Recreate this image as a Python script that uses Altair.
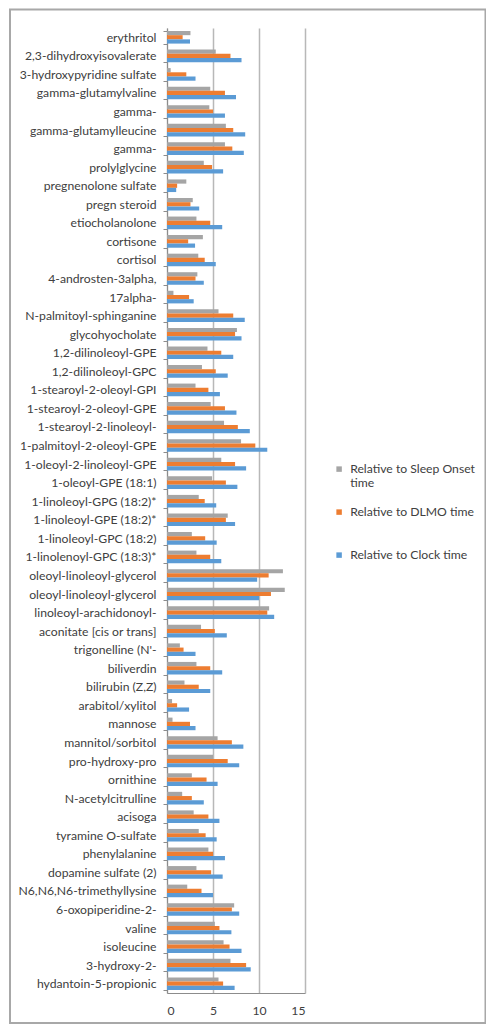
import altair as alt
import pandas as pd

names = [
    "erythritol", "2,3-dihydroxyisovalerate", "3-hydroxypyridine sulfate",
    "gamma-glutamylvaline", "gamma-", "gamma-glutamylleucine", "gamma-\u200b",
    "prolylglycine", "pregnenolone sulfate", "pregn steroid", "etiocholanolone",
    "cortisone", "cortisol", "4-androsten-3alpha,", "17alpha-",
    "N-palmitoyl-sphinganine", "glycohyocholate", "1,2-dilinoleoyl-GPE",
    "1,2-dilinoleoyl-GPC", "1-stearoyl-2-oleoyl-GPI", "1-stearoyl-2-oleoyl-GPE",
    "1-stearoyl-2-linoleoyl-", "1-palmitoyl-2-oleoyl-GPE", "1-oleoyl-2-linoleoyl-GPE",
    "1-oleoyl-GPE (18:1)", "1-linoleoyl-GPG (18:2)*", "1-linoleoyl-GPE (18:2)*",
    "1-linoleoyl-GPC (18:2)", "1-linolenoyl-GPC (18:3)*", "oleoyl-linoleoyl-glycerol",
    "oleoyl-linoleoyl-glycerol\u200b", "linoleoyl-arachidonoyl-", "aconitate [cis or trans]",
    "trigonelline (N'-", "biliverdin", "bilirubin (Z,Z)", "arabitol/xylitol",
    "mannose", "mannitol/sorbitol", "pro-hydroxy-pro", "ornithine",
    "N-acetylcitrulline", "acisoga", "tyramine O-sulfate", "phenylalanine",
    "dopamine sulfate (2)", "N6,N6,N6-trimethyllysine", "6-oxopiperidine-2-",
    "valine", "isoleucine", "3-hydroxy-2-", "hydantoin-5-propionic",
]

sleep_onset = [
    2.55, 5.3, 0.4, 4.7, 4.6, 6.4, 6.3, 4.0, 2.1, 2.8, 3.2, 3.9, 3.4, 3.3, 0.7,
    5.6, 7.6, 4.4, 3.8, 3.1, 4.75, 6.2, 8.05, 5.9, 4.9, 3.45, 6.6, 2.7, 3.2,
    12.6, 12.8, 11.1, 3.7, 1.4, 3.2, 1.9, 0.55, 0.6, 5.5, 5.0, 2.7, 1.65, 2.9,
    3.45, 4.5, 3.2, 2.2, 7.3, 5.2, 6.15, 6.9, 5.6,
]
dlmo = [
    1.7, 6.9, 2.1, 6.3, 5.0, 7.2, 7.1, 4.9, 1.1, 2.55, 4.7, 2.3, 4.1, 3.1, 2.4,
    7.2, 7.4, 5.9, 5.3, 4.5, 6.3, 7.7, 9.6, 7.4, 6.4, 4.1, 6.4, 4.15, 4.7,
    11.05, 11.3, 10.9, 5.2, 1.8, 4.7, 3.45, 1.1, 2.5, 7.05, 6.6, 4.3, 2.7, 4.5,
    4.2, 5.0, 4.8, 3.75, 7.05, 5.7, 6.8, 8.6, 6.1,
]
clock = [
    2.5, 8.1, 3.1, 7.5, 6.3, 8.5, 8.35, 6.1, 1.0, 3.5, 6.0, 3.05, 5.3, 4.0, 2.9,
    8.45, 8.1, 7.2, 6.6, 5.75, 7.55, 9.0, 10.9, 8.6, 7.65, 5.35, 7.4, 5.4, 5.9,
    9.8, 10.0, 11.65, 6.5, 3.1, 6.0, 4.7, 2.4, 3.1, 8.3, 7.85, 5.5, 4.0, 5.7,
    5.4, 6.3, 6.05, 5.0, 7.85, 7.0, 8.1, 9.1, 7.35,
]

series = ["Relative to Sleep Onset time", "Relative to DLMO time", "Relative to Clock time"]
colors = ["#A5A5A5", "#ED7D31", "#5B9BD5"]
x_ticks = [0, 5, 10, 15]

rows = []
for i, n in enumerate(names):
    for s, vals in zip(series, [sleep_onset, dlmo, clock]):
        rows.append({"name": n, "series": s, "value": vals[i], "order": i})
df = pd.DataFrame(rows)

W, H = 138, 965
FONT = "Lato"
TXT = "#404040"

bars = alt.Chart(df).mark_bar().encode(
    y=alt.Y(
        "name:N", sort=names,
        scale=alt.Scale(paddingInner=0.32, paddingOuter=0.16),
        axis=alt.Axis(
            title=None, tickBand="extent", tickSize=4, tickColor="#8c8c8c",
            domainColor="#8c8c8c", domainWidth=1, labelPadding=7,
            labelFont=FONT, labelFontSize=12.2, labelColor=TXT, labelLimit=200,
        ),
    ),
    yOffset=alt.YOffset("series:N", sort=series, scale=alt.Scale(paddingInner=0, paddingOuter=0)),
    x=alt.X(
        "value:Q",
        scale=alt.Scale(domain=[0, 15], nice=False),
        axis=alt.Axis(
            title=None, values=x_ticks, grid=True, gridColor="#b8b8b8", gridWidth=1.5,
            ticks=False, domainColor="#8c8c8c", labelPadding=11,
            labelFont=FONT, labelFontSize=12.2, labelColor=TXT,
        ),
    ),
    color=alt.Color(
        "series:N", sort=series,
        scale=alt.Scale(domain=series, range=colors),
        legend=alt.Legend(
            title=None, orient="none", legendX=166, legendY=435,
            symbolType="square", symbolSize=30, symbolStrokeWidth=0,
            labelFont=FONT, labelFontSize=12.2, labelColor=TXT, labelLimit=200,
            rowPadding=16, labelOffset=5,
            labelExpr="datum.label == 'Relative to Sleep Onset time' ? ['Relative to Sleep Onset', 'time'] : [datum.label, ' ']",
        ),
    ),
)

frame = alt.Chart(pd.DataFrame({"k": [0]})).mark_rect(
    fillOpacity=0, stroke="#a8a8a8", strokeWidth=2
).encode(
    x=alt.value(-157), x2=alt.value(318.5), y=alt.value(-18.5), y2=alt.value(995)
)

chart = alt.layer(bars, frame).properties(
    width=W, height=H,
    autosize=alt.AutoSizeParams(type="none"),
    padding={"left": 159, "top": 20, "right": 181, "bottom": 32},
).configure_view(stroke=None)

chart.save("out.html", embed_options={"renderer": "svg", "actions": False})
